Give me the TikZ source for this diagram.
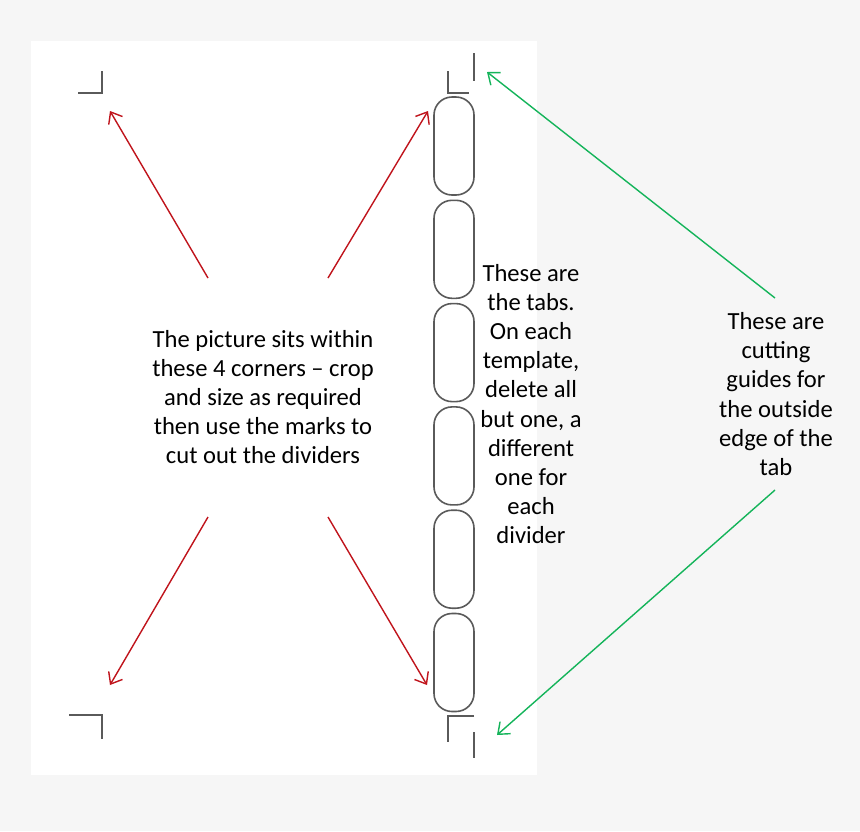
\documentclass[tikz,border=0pt]{standalone}
\usepackage{fontspec}
\setmainfont{Carlito}
\usepackage{tikz}
\usetikzlibrary{arrows.meta, positioning, calc}
\definecolor{pagegrey}{RGB}{246, 246, 246}
\definecolor{markgrey}{RGB}{90, 90, 90}
\definecolor{arrowred}{RGB}{192, 20, 28}
\definecolor{guidegreen}{RGB}{20, 180, 90}

\tikzset{
  note/.style={align=center, font=\fontsize{12.3}{14.6}\selectfont, inner sep=0pt},
  cropmark/.style={markgrey, line width=1pt},
  tabshape/.style={draw=markgrey, line width=0.8pt, rounded corners=9pt, minimum width=20pt, minimum height=49pt, inner sep=0pt},
  redarrow/.style={arrowred, line width=0.7pt, -{Straight Barb[length=5pt, width=8pt]}},
  greenarrow/.style={guidegreen, line width=0.7pt, -{Straight Barb[length=5pt, width=8pt]}}
}

\begin{document}
\begin{tikzpicture}[x=0.5pt, y=-0.5pt]
        % Page
        \fill[pagegrey] (0,0) rectangle (860,831);
        \useasboundingbox (0,0) rectangle (860,831);
        \fill[white] (31,41) rectangle (537,775);

        % Corner marks
        \draw[cropmark] (78,93) -- (102,93) -- (102,71);
        \draw[cropmark] (69,715) -- (102,715) -- (102,739);
        \draw[cropmark] (448,71) -- (448,93) -- (469,93);
        \draw[cropmark] (474,53) -- (474,81);
        \draw[cropmark] (474,716) -- (448,716) -- (448,742);
        \draw[cropmark] (474,732) -- (474,758);

        % Tabs
        \foreach \i in {1,...,6}
            \node[tabshape] (tab\i) at (454,{146+(\i-1)*103.3}) {};

        % Texts
        \node[note] (picture) at (263,397) {The picture sits within\\these 4 corners -- crop\\and size as required\\then use the marks to\\cut out the dividers};
        \node[note] (tabs) at (531,404) {These are\\the tabs.\\On each\\template,\\delete all\\but one, a\\different\\one for\\each\\divider};
        \node[note] (guides) at (776,394) {These are\\cutting\\guides for\\the outside\\edge of the\\tab};

        % Arrow ends
        \coordinate (ul) at (208,278);
        \coordinate (ur) at (328,278);
        \coordinate (ll) at (208,517);
        \coordinate (lr) at (328,517);
        \coordinate (gu) at (775,298);
        \coordinate (gl) at (775,490);
        \coordinate (ultip) at (110,111);
        \coordinate (urtip) at (428,111);
        \coordinate (lltip) at (110,685);
        \coordinate (lrtip) at (427,685);
        \coordinate (gutip) at (487,72);
        \coordinate (gltip) at (497,735);

        % Red arrows
        \draw[redarrow] (ul) -- (ultip);
        \draw[redarrow] (ur) -- (urtip);
        \draw[redarrow] (ll) -- (lltip);
        \draw[redarrow] (lr) -- (lrtip);

        % Green arrows
        \draw[greenarrow] (gu) -- (gutip);
        \draw[greenarrow] (gl) -- (gltip);
\end{tikzpicture}
\end{document}
